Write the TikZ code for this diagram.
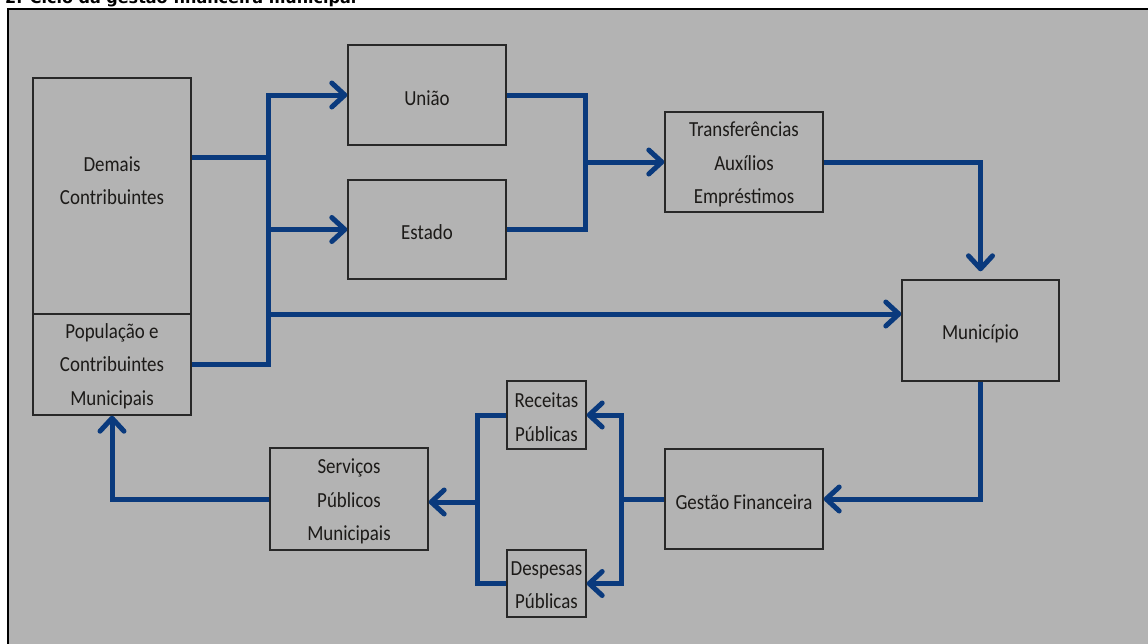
\documentclass[tikz,border=0pt]{standalone}
\usepackage{fontspec}
\setmainfont{Carlito}[FakeStretch=0.88]
\newfontfamily\titlefont{DejaVu Sans}
\usetikzlibrary{arrows.meta}
\definecolor{bggray}{RGB}{179,179,179}
\definecolor{flowblue}{RGB}{10,58,125}
\definecolor{boxline}{RGB}{40,40,40}
\definecolor{txtcol}{RGB}{28,26,24}
\tikzset{
  box/.style={draw=boxline, line width=1.4pt, fill=bggray, inner sep=0pt, align=center,
    text=txtcol, font=\fontsize{21.5}{33.5}\selectfont,
    execute at begin node={\rule{0pt}{21pt}}},
  emptybox/.style={draw=boxline, line width=1.4pt, fill=bggray, inner sep=0pt},
  txt/.style={inner sep=0pt, align=center, text=txtcol, font=\fontsize{21.5}{33.5}\selectfont},
  conn/.style={draw=flowblue, line width=5pt},
  arr/.style={conn, -{Straight Barb[length=13pt,width=24pt,round]}}
}
\begin{document}
\begin{tikzpicture}[x=1pt,y=-1pt]
\useasboundingbox (0,0) rectangle (1148,643);
% frame
\fill[white] (0,0) rectangle (1148,643);
\draw[black, line width=2.5pt, fill=bggray] (8,9) rectangle (1170,670);
% title (cut at the top)
\node[anchor=base west, inner sep=0pt, font=\titlefont\bfseries\fontsize{16}{18}\selectfont] (title) at (5,3) {2. Ciclo da gestão financeira municipal};

% boxes
\node[emptybox, minimum width=158pt, minimum height=236pt] (dem) at (112,196) {};
\node[txt] (demtxt) at (112,180.5) {Demais\\Contribuintes};
\node[emptybox, minimum width=158pt, minimum height=101pt] (pop) at (112,364.5) {};
\node[txt] (poptxt) at (112,366) {População e\\Contribuintes\\Municipais};
\node[box, minimum width=158pt, minimum height=100pt] (uniao) at (427,95) {União};
\node[box, minimum width=158pt, minimum height=99pt] (estado) at (427,229.5) {Estado};
\node[emptybox, minimum width=158pt, minimum height=100pt] (transf) at (744,162) {};
\node[txt] (transftxt) at (744,164.5) {Transferências\\Auxílios\\Empréstimos};
\node[box, minimum width=157pt, minimum height=101pt] (mun) at (980.5,330.5) {Município};
\node[box, minimum width=158pt, minimum height=100pt] (gest) at (744,499) {Gestão Financeira};
\node[emptybox, minimum width=79pt, minimum height=68pt] (rec) at (546.5,415) {};
\node[txt] (rectxt) at (546.5,417) {Receitas\\Públicas};
\node[emptybox, minimum width=79pt, minimum height=67pt] (desp) at (546.5,583.5) {};
\node[txt] (desptxt) at (546.5,585) {Despesas\\Públicas};
\node[emptybox, minimum width=158pt, minimum height=102pt] (serv) at (349,499) {};
\node[txt] (servtxt) at (349,501.5) {Serviços\\Públicos\\Municipais};

% junction coordinates
\coordinate (tA) at (268,95);
\coordinate (tD) at (268,157);
\coordinate (tE) at (268,229.5);
\coordinate (tC) at (268,314);
\coordinate (mA) at (585,162);
\coordinate (g1) at (621,499);
\coordinate (s1) at (477,502);

% connectors
\draw[conn] (dem.east |- tD) -- (tD);
\draw[arr] (pop.east) -| (tA) -- (uniao.west);
\draw[arr] (tE) -- (estado.west);
\draw[arr] (tC) -- (mun.west |- tC);
\draw[conn] (uniao.east) -| (mA) |- (estado.east);
\draw[arr] (mA) -- (transf.west);
\draw[arr, shorten >=8pt] (transf.east) -| (mun.north);
\draw[arr] (mun.south) |- (gest.east);
\draw[conn] (gest.west) -- (g1);
\draw[arr] (g1) |- (rec.east);
\draw[arr] (g1) |- (desp.east);
\draw[conn] (rec.west) -| (s1) |- (desp.west);
\draw[arr] (s1) -- (serv.east |- s1);
\draw[arr] (serv.west) -| (pop.south);
\end{tikzpicture}
\end{document}
